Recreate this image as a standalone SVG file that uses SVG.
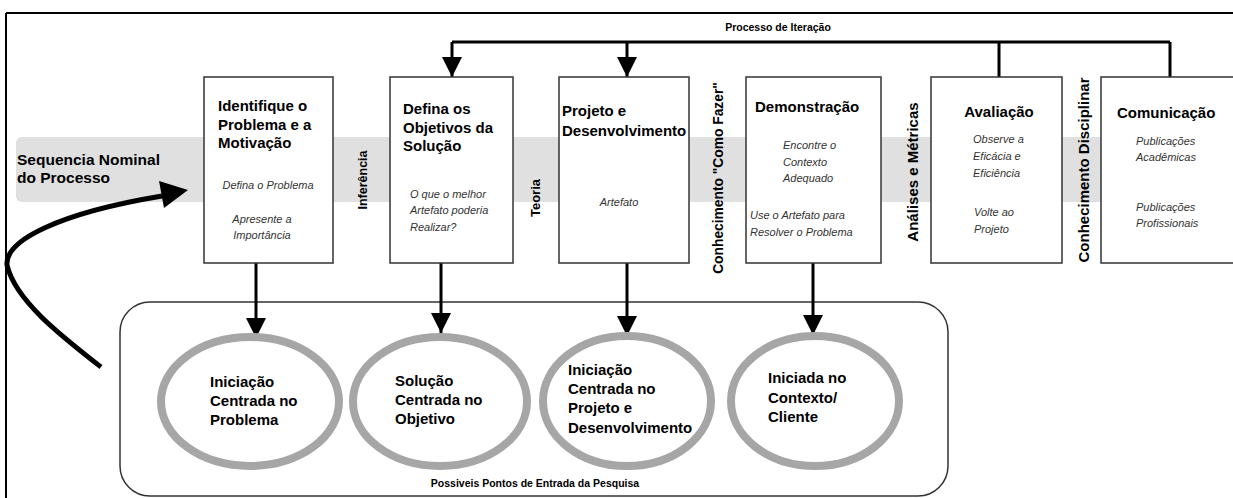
<svg xmlns="http://www.w3.org/2000/svg" width="1233" height="498" viewBox="0 0 1233 498">
<style>
.t{font-family:"Liberation Sans",Arial,sans-serif;font-weight:bold;font-size:15px;fill:#000}
.r{font-family:"Liberation Sans",Arial,sans-serif;font-weight:bold;font-size:13.5px;fill:#000}
.s{font-family:"Liberation Sans",Arial,sans-serif;font-style:italic;font-size:11px;fill:#333}
.m{font-family:"Liberation Sans",Arial,sans-serif;font-weight:bold;font-size:10.5px;fill:#000}
.box{fill:#fff;stroke:#333;stroke-width:1.5}
.ell{fill:#fff;stroke:#a6a6a6;stroke-width:8}
.ln{stroke:#000;stroke-width:3;fill:none}
</style>
<defs>
<marker id="ah" markerUnits="userSpaceOnUse" markerWidth="20" markerHeight="20" viewBox="0 0 20 20" refX="20" refY="10" orient="auto">
<path d="M0,0 L20,10 L0,20 Z" fill="#000"/>
</marker>
</defs>
<rect width="1233" height="498" fill="#fff"/>
<!-- frame -->
<path d="M6,13 H1233 M6,13 V498" stroke="#000" stroke-width="2" fill="none"/>
<!-- gray band -->
<rect x="16" y="137" width="1230" height="65" rx="6" fill="#e0e0e0"/>
<g id="entry-frame">
<rect x="120" y="302" width="828" height="194" rx="30" fill="none" stroke="#333" stroke-width="1.5"/>
<text class="m" x="535" y="487" text-anchor="middle">Possiveis Pontos de Entrada da Pesquisa</text>
</g>
<g id="nominal">
<text class="t" x="17" y="165" style="font-size:15.5px">Sequencia Nominal</text>
<text class="t" x="17" y="183" style="font-size:15.5px">do Processo</text>
</g>
<!-- rotated labels -->
<g id="lbl-inferencia"><text class="r" style="font-size:12.5px" transform="translate(367,180) rotate(-90)" text-anchor="middle">Inferência</text></g>
<g id="lbl-teoria"><text class="r" style="font-size:13px" transform="translate(540,198) rotate(-90)" text-anchor="middle">Teoria</text></g>
<g id="lbl-como"><text class="r" style="font-size:13.8px" transform="translate(723,178) rotate(-90)" text-anchor="middle">Conhecimento "Como Fazer"</text></g>
<g id="lbl-analises"><text class="r" style="font-size:15px" transform="translate(918,172) rotate(-90)" text-anchor="middle">Análises e Métricas</text></g>
<g id="lbl-disciplinar"><text class="r" style="font-size:15px" transform="translate(1089,170) rotate(-90)" text-anchor="middle">Conhecimento Disciplinar</text></g>
<g id="iteration-label"><text class="m" x="778" y="31" text-anchor="middle">Processo de Iteração</text></g>
<!-- connectors -->
<g id="connectors">
<path class="ln" d="M452,42 H1170 M999,42 V77 M1170,42 V77"/>
<path class="ln" d="M452,42 V77" marker-end="url(#ah)"/>
<path class="ln" d="M627,42 V77" marker-end="url(#ah)"/>
<path class="ln" d="M256,263 V338" marker-end="url(#ah)"/>
<path class="ln" d="M441,263 V333" marker-end="url(#ah)"/>
<path class="ln" d="M627,263 V336" marker-end="url(#ah)"/>
<path class="ln" d="M813,263 V335" marker-end="url(#ah)"/>
<path d="M101,367 C60,335 15,300 7,265 C5,240 60,213 162,196" stroke="#000" stroke-width="5" fill="none"/>
<path d="M188,190 L159,181 L164,208 Z" fill="#000"/>
</g>
<g id="box1">
<rect class="box" x="204" y="77" width="129" height="186"/>
<text class="t" x="218" y="111">Identifique o</text>
<text class="t" x="218" y="129.5">Problema e a</text>
<text class="t" x="218" y="148">Motivação</text>
<text class="s" x="268" y="189" text-anchor="middle">Defina o Problema</text>
<text class="s" x="262" y="223" text-anchor="middle">Apresente a</text>
<text class="s" x="262" y="239" text-anchor="middle">Importância</text>
</g>
<g id="box2">
<rect class="box" x="390" y="77" width="123" height="186"/>
<text class="t" x="403" y="114">Defina os</text>
<text class="t" x="403" y="133">Objetivos da</text>
<text class="t" x="403" y="151">Solução</text>
<text class="s" x="410" y="198">O que o melhor</text>
<text class="s" x="410" y="214">Artefato poderia</text>
<text class="s" x="410" y="231">Realizar?</text>
</g>
<g id="box3">
<rect class="box" x="559" y="77" width="130" height="186"/>
<text class="t" x="562" y="116">Projeto e</text>
<text class="t" x="562" y="136">Desenvolvimento</text>
<text class="s" x="619" y="206" text-anchor="middle">Artefato</text>
</g>
<g id="box4">
<rect class="box" x="746" y="77" width="135" height="186"/>
<text class="t" x="755" y="112">Demonstração</text>
<text class="s" x="783" y="149">Encontre o</text>
<text class="s" x="783" y="166">Contexto</text>
<text class="s" x="783" y="182">Adequado</text>
<text class="s" x="750" y="219">Use o Artefato para</text>
<text class="s" x="750" y="236">Resolver o Problema</text>
</g>
<g id="box5">
<rect class="box" x="931" y="77" width="131" height="186"/>
<text class="t" x="999" y="117" text-anchor="middle">Avaliação</text>
<text class="s" x="973" y="143">Observe a</text>
<text class="s" x="973" y="160">Eficácia e</text>
<text class="s" x="973" y="177">Eficiência</text>
<text class="s" x="974" y="216">Volte ao</text>
<text class="s" x="974" y="233">Projeto</text>
</g>
<g id="box6">
<rect class="box" x="1101" y="77" width="140" height="186"/>
<text class="t" x="1117" y="118">Comunicação</text>
<text class="s" x="1136" y="145">Publicações</text>
<text class="s" x="1136" y="161">Acadêmicas</text>
<text class="s" x="1136" y="211">Publicações</text>
<text class="s" x="1136" y="227">Profissionais</text>
</g>
<g id="entry1">
<ellipse class="ell" cx="250" cy="401.5" rx="89" ry="64.5"/>
<text class="t" x="210" y="387">Iniciação</text>
<text class="t" x="210" y="406">Centrada no</text>
<text class="t" x="210" y="425">Problema</text>
</g>
<g id="entry2">
<ellipse class="ell" cx="440" cy="401.5" rx="87" ry="64.5"/>
<text class="t" x="395" y="386">Solução</text>
<text class="t" x="395" y="405">Centrada no</text>
<text class="t" x="395" y="424">Objetivo</text>
</g>
<g id="entry3">
<ellipse class="ell" cx="627" cy="401" rx="84" ry="65"/>
<text class="t" x="568" y="375">Iniciação</text>
<text class="t" x="568" y="394">Centrada no</text>
<text class="t" x="568" y="413">Projeto e</text>
<text class="t" x="568" y="433">Desenvolvimento</text>
</g>
<g id="entry4">
<ellipse class="ell" cx="815" cy="401" rx="84" ry="65"/>
<text class="t" x="768" y="383">Iniciada no</text>
<text class="t" x="768" y="403">Contexto/</text>
<text class="t" x="768" y="422">Cliente</text>
</g>
</svg>
